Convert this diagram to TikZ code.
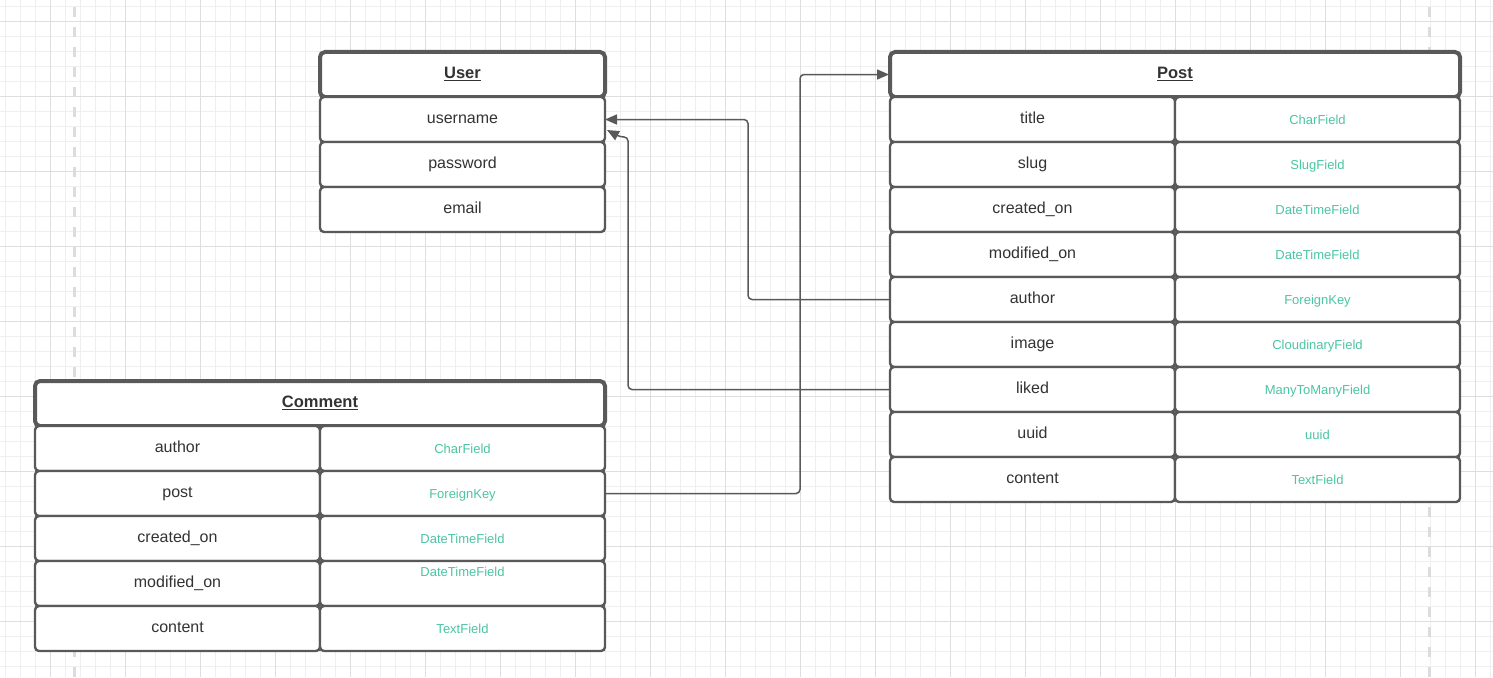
\documentclass[tikz,border=0pt]{standalone}
\usepackage{fontspec}
\setmainfont{Liberation Sans}
\usetikzlibrary{arrows.meta}
\definecolor{gridminor}{HTML}{EFEFEF}
\definecolor{gridmajor}{HTML}{DEDEDE}
\definecolor{guide}{HTML}{DCDCDC}
\definecolor{edge}{HTML}{595959}
\definecolor{ink}{HTML}{333333}
\definecolor{typeink}{HTML}{4CC5A3}
\tikzset{
  cell/.style={draw=edge, line width=2.4pt, fill=white, rounded corners=4pt,
    minimum width=285pt, minimum height=45pt, inner sep=0pt, outer sep=0pt,
    anchor=north west, text height=11.5pt, text depth=3.5pt,
    text=ink, font=\fontsize{16}{19}\selectfont},
  typecell/.style={cell, text=typeink, font=\fontsize{13}{15}\selectfont,
    text height=12pt, text depth=2pt},
  headcell/.style={draw=edge, line width=4pt, fill=white, rounded corners=5pt,
    minimum height=45pt, inner sep=0pt, outer sep=0pt, anchor=north west,
    text height=11.5pt, text depth=3.5pt,
    text=ink, font=\fontsize{16.5}{19}\selectfont\bfseries},
  conn/.style={draw=edge, line width=1.5pt, rounded corners=4pt,
    -{Triangle[length=12pt,width=10pt]}},
}
\begin{document}
\begin{tikzpicture}[x=1pt, y=-1pt]
\useasboundingbox (0,0) rectangle (1493,677);
\fill[white] (0,0) rectangle (1493,677);
% background grid
\foreach \gx in {5,20,...,1490} \draw[gridminor, line width=0.9pt] (\gx,0) -- (\gx,677);
\foreach \gy in {6,21,...,676} \draw[gridminor, line width=0.9pt] (0,\gy) -- (1493,\gy);
\foreach \gx in {50,125,...,1490} \draw[gridmajor, line width=0.9pt] (\gx,0) -- (\gx,677);
\foreach \gy in {21,96,...,676} \draw[gridmajor, line width=0.9pt] (0,\gy) -- (1493,\gy);
% page guides
\draw[guide, line width=3pt, dash pattern=on 10pt off 10pt, dash phase=-7pt] (74,0) -- (74,677);
\draw[guide, line width=3pt, dash pattern=on 10pt off 10pt, dash phase=-7pt] (1429,0) -- (1429,677);

% User table
\node[headcell, minimum width=285pt] (user-head) at (320,52) {\underline{User}};
\foreach [count=\i] \key/\label in {username/username, password/password, email/email}
  \node[cell] (user-\key) at (320,{52+45*\i}) {\label};

% Post table
\node[headcell, minimum width=570pt] (post-head) at (890,52) {\underline{Post}};
\foreach [count=\i] \key/\label/\kind in {title/title/CharField, slug/slug/SlugField,
    created/created\_on/DateTimeField, modified/modified\_on/DateTimeField,
    author/author/ForeignKey, image/image/CloudinaryField,
    liked/liked/ManyToManyField, uuid/uuid/uuid, content/content/TextField} {
  \node[cell] (post-\key) at (890,{52+45*\i}) {\label};
  \node[typecell] (post-\key-type) at (1175,{52+45*\i}) {\kind};
}

% Comment table
\node[headcell, minimum width=570pt] (comment-head) at (35,381) {\underline{Comment}};
\foreach [count=\i] \key/\label/\kind in {author/author/CharField, post/post/ForeignKey,
    created/created\_on/DateTimeField, modified/modified\_on/{},
    content/content/TextField} {
  \node[cell] (comment-\key) at (35,{381+45*\i}) {\label};
  \node[typecell] (comment-\key-type) at (320,{381+45*\i}) {\kind};
}
\node[text=typeink, font=\fontsize{13}{15}\selectfont, inner sep=0pt]
  (comment-modified-kind) at (462.5,572) {DateTimeField};

% relations
\coordinate (bend-author) at (748,119.5);
\coordinate (bend-liked) at (628,137);
\coordinate (liked-tip) at (607,130);
\coordinate (bend-post) at (800,74.5);
\draw[conn] (post-author.west) -| (bend-author) -- (user-username.east);
\draw[conn] (post-liked.west) -| (bend-liked) -- (620,137) -- (liked-tip);
\draw[conn, shorten >=1pt] (comment-post-type.east) -| (bend-post) -- (post-head.west);
\end{tikzpicture}
\end{document}
